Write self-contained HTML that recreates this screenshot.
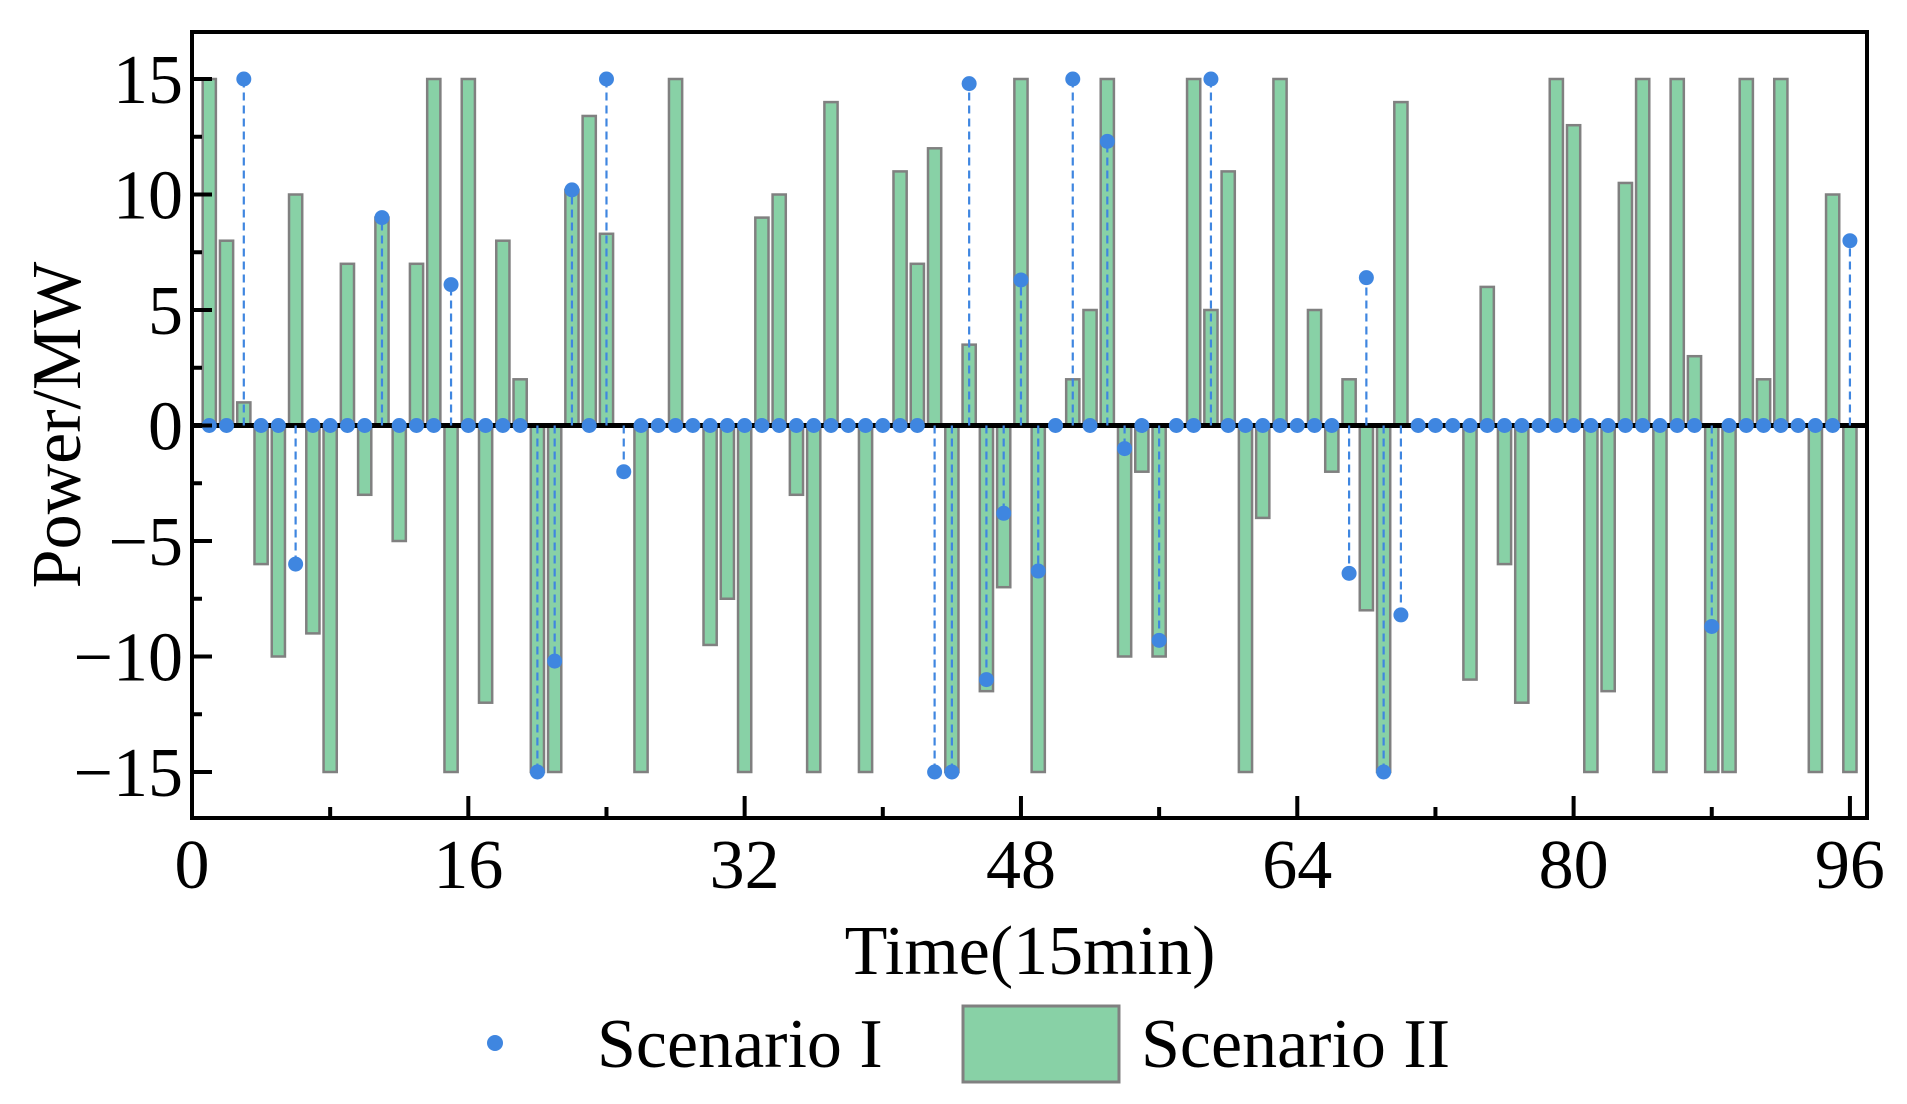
<!DOCTYPE html>
<html><head><meta charset="utf-8"><style>
html,body{margin:0;padding:0;background:#fff;}
svg{display:block;}
text{font-family:"Liberation Serif",serif;fill:#000;}
</style></head><body>
<svg id="chart" width="1907" height="1104" viewBox="0 0 1907 1104" xmlns="http://www.w3.org/2000/svg">
<g id="bars"></g>
<line x1="192" y1="425.5" x2="1867" y2="425.5" stroke="#000" stroke-width="5"/>
<g id="stems"></g>
<g id="dots"></g>
<rect x="192" y="32" width="1675" height="786" fill="none" stroke="#000" stroke-width="4"/>
<g id="axes"></g>
<text x="1030" y="974" font-size="70" text-anchor="middle">Time(15min)</text>
<text transform="translate(80,425) rotate(-90)" font-size="70" text-anchor="middle">Power/MW</text>
<g>
<circle cx="495" cy="1043" r="8" fill="#3f86e0"/>
<text x="597" y="1067" font-size="70">Scenario I</text>
<rect x="963" y="1006" width="156" height="76" fill="#88d1a6" stroke="#808080" stroke-width="3"/>
<text x="1141" y="1067" font-size="70">Scenario II</text>
</g>
</svg>
<script>
const times = Array.from({length:96},(_,i)=>i+1);
const scenario2 = [15,8,1,-6,-10,10,-9,-15,7,-3,9,-5,7,15,-15,15,-12,8,2,-15,
-15,10.2,13.4,8.3,0,-15,0,15,0,-9.5,-7.5,-15,9,10,-3,-15,14,0,-15,0,
11,7,12,-15,3.5,-11.5,-7,15,-15,0,2,5,15,-10,-2,-10,0,15,5,11,
-15,-4,15,0,5,-2,2,-8,-15,14,0,0,0,-11,6,-6,-12,0,15,13,
-15,-11.5,10.5,15,-15,15,3,-15,-15,15,2,15,0,-15,10,-15];
const scenario1 = [0,0,15,0,0,-6,0,0,0,0,9,0,0,0,6.1,0,0,0,0,-15,
-10.2,10.2,0,15,-2,0,0,0,0,0,0,0,0,0,0,0,0,0,0,0,
0,0,-15,-15,14.8,-11,-3.8,6.3,-6.3,0,15,0,12.3,-1,0,-9.3,0,0,15,0,
0,0,0,0,0,0,-6.4,6.4,-15,-8.2,0,0,0,0,0,0,0,0,0,0,
0,0,0,0,0,0,0,-8.7,0,0,0,0,0,0,0,8];
const xTicks = [0,16,32,48,64,80,96];
const yTicks = [-15,-10,-5,0,5,10,15];
const NS='http://www.w3.org/2000/svg';
const X = v => 192 + v*17.27;
const Y = v => 425.5 - v*23.1;
function mk(tag, attrs, parent){const e=document.createElementNS(NS,tag);for(const k in attrs)e.setAttribute(k,attrs[k]);parent.appendChild(e);return e;}
const gb=document.getElementById('bars'), gs=document.getElementById('stems'), gd=document.getElementById('dots'), ga=document.getElementById('axes');
times.forEach((t,i)=>{
  const v=scenario2[i];
  if(v!==0){
    const r=mk('rect',{x:X(t)-6.6,y:Math.min(Y(0),Y(v)),width:13.2,height:Math.abs(Y(v)-Y(0)),fill:'#88d1a6',stroke:'#808080','stroke-width':2.5},gb);
    
    
  }
  const d=scenario1[i];
  if(d!==0){
    const l=mk('line',{x1:X(t),y1:Y(0),x2:X(t),y2:Y(d),stroke:'#3f86e0','stroke-width':2.2,'stroke-dasharray':'8,5'},gs);
    
    
  }
  const c=mk('circle',{cx:X(t),cy:Y(d),r:7.5,fill:'#3f86e0'},gd);
  
  
});
for(let v=0;v<=96;v+=8){
  const major=v%16===0;
  const l=mk('line',{x1:X(v),y1:818,x2:X(v),y2:818-(major?22:11),stroke:'#000','stroke-width':4},ga);
  
  
}
xTicks.forEach(v=>{
  const t=mk('text',{x:X(v),y:888,'font-size':70,'text-anchor':'middle'},ga);
  t.textContent=v;
  
  
});
for(let v=-15;v<=15;v+=2.5){
  const major=v%5===0;
  const l=mk('line',{x1:192,y1:Y(v),x2:192+(major?20:10),y2:Y(v),stroke:'#000','stroke-width':4},ga);
  
  
}
yTicks.forEach(v=>{
  const t=mk('text',{x:183,y:Y(v)+24,'font-size':70,'text-anchor':'end'},ga);
  t.textContent=v<0?'\u2212'+Math.abs(v):String(v);
  
  
});
</script>
</body></html>
